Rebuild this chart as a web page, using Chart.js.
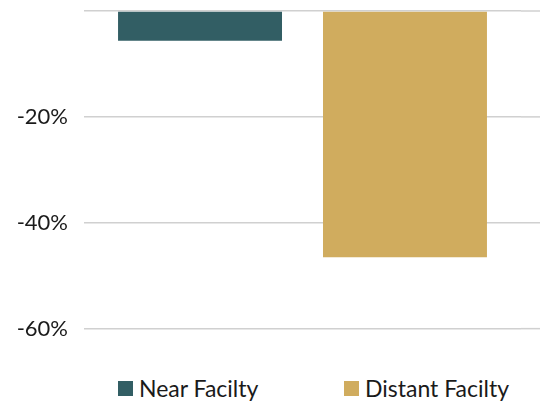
<!DOCTYPE html>
<html>
<head>
<meta charset="utf-8">
<script src="https://cdn.jsdelivr.net/npm/chart.js@4"></script>
<style>
    body { margin: 0; background: #fff; }
    #wrap { position: relative; width: 544px; height: 401px; }
    #box { position: absolute; left: 0; top: 0; width: 544px; height: 372px; }
    #legend { position: absolute; left: 118px; top: 374px; display: flex; font-family: Lato, sans-serif; font-size: 23px; color: #1a1a1a; }
    #legend .item { display: flex; align-items: center; width: 226px; }
    #legend .sw { width: 15px; height: 15px; margin-right: 6px; }
</style>
</head>
<body>
<div id="wrap">
    <div id="box"><canvas id="chart"></canvas></div>
    <div id="legend"></div>
</div>
<script>
// du lieu
const categories = ['Change'];
const seriesNames = ['Near Facilty', 'Distant Facilty'];
const nearValues = [-5.6];
const distantValues = [-46.5];
const tickValues = [0, -20, -40, -60];
const seriesColors = ['#325e64', '#d0ac5e'];

// keo dai duong luoi sang phai
const gridExtend = {
    id: 'gridExtend',
    beforeDatasetsDraw(chart) {
        const ctx = chart.ctx;
        const y = chart.scales.y;
        ctx.save();
        ctx.strokeStyle = '#d0d0d0';
        ctx.lineWidth = 1.5;
        tickValues.forEach(v => {
            const py = y.getPixelForValue(v);
            ctx.beginPath();
            ctx.moveTo(chart.chartArea.right, py);
            ctx.lineTo(540, py);
            ctx.stroke();
        });
        ctx.restore();
    }
};

const ctx = document.getElementById('chart').getContext('2d');
const myChart = new Chart(ctx, {
    type: 'bar',
    data: {
        labels: categories,
        datasets: [
            { label: seriesNames[0], data: nearValues, backgroundColor: seriesColors[0] },
            { label: seriesNames[1], data: distantValues, backgroundColor: seriesColors[1] }
        ]
    },
    options: {
        responsive: true,
        maintainAspectRatio: false,
        animation: false,
        categoryPercentage: 0.938,
        barPercentage: 0.8,
        layout: { padding: { top: 11, right: 23, bottom: 1, left: 0 } },
        plugins: {
            legend: { display: false },
            tooltip: { enabled: false }
        },
        scales: {
            x: { display: false },
            y: {
                min: -68,
                max: 0,
                afterBuildTicks: axis => { axis.ticks = tickValues.map(v => ({ value: v })); },
                afterFit: axis => {
                    axis.width = 84;
                    axis.paddingTop = 0;
                    axis.paddingBottom = 0;
                },
                border: { display: false },
                grid: { color: '#d0d0d0', lineWidth: 1.5, drawTicks: false },
                ticks: {
                    padding: 16,
                    color: '#1a1a1a',
                    font: { family: 'Lato', size: 22 },
                    callback: v => (v === 0 ? '' : v + '%')
                }
            }
        }
    },
    plugins: [gridExtend]
});

// chu thich
const legend = document.getElementById('legend');
seriesNames.forEach((name, i) => {
    const item = document.createElement('div');
    item.className = 'item';
    item.innerHTML = `<span class="sw" style="background:${seriesColors[i]}"></span><span>${name}</span>`;
    legend.appendChild(item);
});
</script>
</body>
</html>
